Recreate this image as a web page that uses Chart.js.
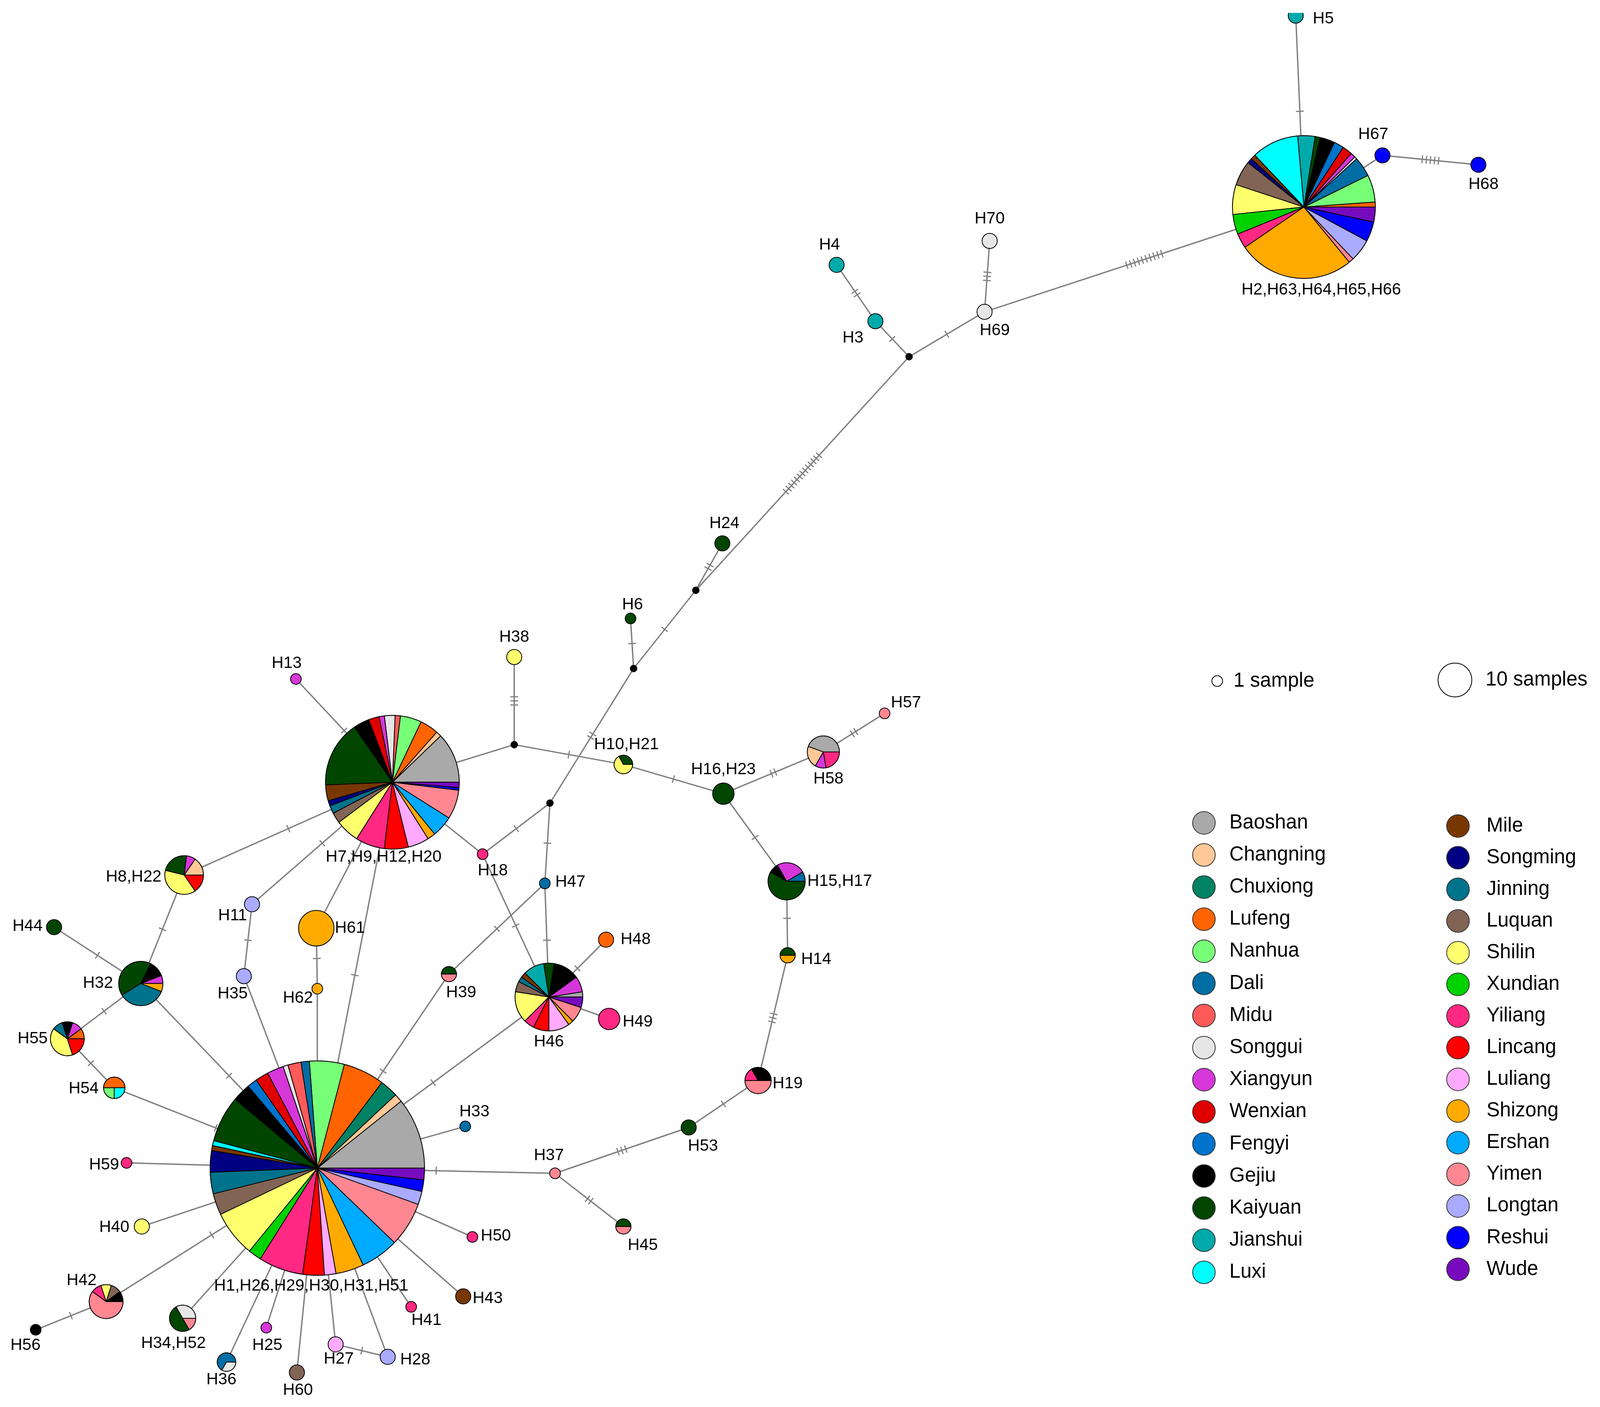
<!DOCTYPE html>
<html>
<head>
<meta charset="utf-8">
<title>Haplotype network</title>
<script src="https://cdn.jsdelivr.net/npm/chart.js@4/dist/chart.umd.min.js"></script>
<style>
  html, body { margin: 0; padding: 0; background: #fff; overflow: hidden; }
  canvas { display: block; }
</style>
</head>
<body>
<canvas id="network"></canvas>
<script>
// sampling regions, pie slices always run in this order
const regions = ["Baoshan", "Changning", "Chuxiong", "Lufeng", "Nanhua", "Dali", "Midu", "Songgui", "Xiangyun", "Wenxian", "Fengyi", "Gejiu", "Kaiyuan", "Jianshui", "Luxi", "Mile", "Songming", "Jinning", "Luquan", "Shilin", "Xundian", "Yiliang", "Lincang", "Luliang", "Shizong", "Ershan", "Yimen", "Longtan", "Reshui", "Wude"];
const regionColors = ["#a9a9a9", "#ffc896", "#008264", "#ff6400", "#78ff78", "#006ea5", "#ff5a5a", "#e6e6e6", "#d637d8", "#e10000", "#0073cd", "#000000", "#004600", "#00aaaa", "#00ffff", "#783700", "#000082", "#00738c", "#826455", "#ffff6e", "#00d200", "#ff2882", "#ff0000", "#ffaaff", "#ffaa00", "#00aaff", "#ff8791", "#aaaaff", "#0000ff", "#780abe"];

// haplotypes: layout position and samples per region
const nodeIds = ["H1", "H2", "H7", "H46", "H32", "H8", "H15", "H58", "H55", "H42", "H19", "H34", "H54", "H36", "H10", "H14", "H39", "H45", "H16", "H5", "H67", "H68", "H4", "H3", "H70", "H69", "H24", "H6", "H38", "H13", "H57", "H18", "H47", "H11", "H44", "H61", "H48", "H35", "H62", "H49", "H33", "H53", "H37", "H59", "H40", "H50", "H43", "H41", "H25", "H27", "H28", "H60", "H56"];
const nodeX = [311, 1278, 384.6, 538, 138, 180.5, 771, 807, 66, 104, 743, 179, 112, 222, 611, 772, 440, 611, 709, 1270, 1355, 1449, 820, 858, 970, 965, 708, 618, 504, 290, 867, 473, 534, 247, 53, 310, 594, 239, 311, 597, 456, 675, 544, 124, 139, 463, 454, 403, 261, 329, 380, 291, 35];
const nodeY = [1120, 198.5, 750, 956, 943, 839, 845, 721, 996, 1248, 1036, 1264, 1043, 1306, 733, 916, 934, 1176, 761, 15, 149, 158, 254, 308, 231, 299, 521, 593, 630, 651, 684, 819, 847, 867, 889, 890, 901, 936, 948, 977, 1080, 1081, 1125, 1115, 1176, 1186, 1243, 1253, 1273, 1289, 1301, 1316, 1275];
const nodeMix = [
  { Baoshan: 43, Changning: 5, Chuxiong: 11, Lufeng: 25, Nanhua: 21, Dali: 5, Midu: 8, Songgui: 3, Xiangyun: 10, Wenxian: 8, Fengyi: 6, Gejiu: 11, Kaiyuan: 28, Luxi: 3, Mile: 3, Songming: 13, Jinning: 13, Luquan: 13, Shilin: 28, Xundian: 8, Yiliang: 27, Lincang: 13, Luliang: 7, Shizong: 17, Ershan: 23, Yimen: 27, Longtan: 8, Reshui: 7, Wude: 7 },
  { Lufeng: 2, Nanhua: 11, Dali: 8, Songgui: 1, Xiangyun: 2, Wenxian: 4, Fengyi: 4, Gejiu: 6, Kaiyuan: 2, Jianshui: 7, Luxi: 19, Mile: 2, Songming: 2, Luquan: 10, Shilin: 12, Xundian: 8, Yiliang: 6, Shizong: 47, Yimen: 2, Longtan: 9, Reshui: 8, Wude: 6 },
  { Baoshan: 19, Changning: 2, Lufeng: 7, Nanhua: 8, Midu: 2, Songgui: 4, Xiangyun: 2, Wenxian: 4, Gejiu: 6, Kaiyuan: 25, Mile: 6, Songming: 2, Jinning: 3, Luquan: 4, Shilin: 9, Yiliang: 11, Lincang: 9, Luliang: 8, Shizong: 3, Ershan: 8, Yimen: 11, Reshui: 1, Wude: 2 },
  { Baoshan: 1, Xiangyun: 3, Gejiu: 5, Kaiyuan: 2, Jianshui: 4, Mile: 1, Jinning: 1, Luquan: 2, Shilin: 6, Yiliang: 2, Lincang: 3, Luliang: 4, Shizong: 1, Yimen: 3, Wude: 2 },
  { Xiangyun: 1, Gejiu: 2, Kaiyuan: 7, Jinning: 6, Shizong: 1 },
  { Changning: 2, Xiangyun: 1, Kaiyuan: 3, Shilin: 5, Lincang: 2 },
  { Dali: 1, Xiangyun: 3, Gejiu: 1, Kaiyuan: 7 },
  { Baoshan: 4, Changning: 2, Xiangyun: 1, Yiliang: 2 },
  { Lufeng: 1, Xiangyun: 1, Gejiu: 1, Jinning: 1, Shilin: 4, Lincang: 2 },
  { Gejiu: 1, Luquan: 1, Shilin: 1, Yiliang: 1, Yimen: 6 },
  { Gejiu: 2, Yiliang: 1, Yimen: 3 },
  { Songgui: 2, Kaiyuan: 3, Yimen: 1 },
  { Lufeng: 2, Nanhua: 1, Luxi: 1 },
  { Dali: 2, Songgui: 1 },
  { Kaiyuan: 1, Shilin: 2 },
  { Kaiyuan: 1, Shizong: 1 },
  { Kaiyuan: 1, Yimen: 1 },
  { Kaiyuan: 1, Yimen: 1 },
  { Kaiyuan: 4 },
  { Jianshui: 2 }, { Reshui: 2 }, { Reshui: 2 }, { Jianshui: 2 }, { Jianshui: 2 }, { Songgui: 2 }, { Songgui: 2 },
  { Kaiyuan: 2 }, { Kaiyuan: 1 }, { Shilin: 2 }, { Xiangyun: 1 }, { Yimen: 1 }, { Yiliang: 1 }, { Dali: 1 },
  { Longtan: 2 }, { Kaiyuan: 2 }, { Shizong: 11 }, { Lufeng: 2 }, { Longtan: 2 }, { Shizong: 1 }, { Yiliang: 4 },
  { Dali: 1 }, { Kaiyuan: 2 }, { Yimen: 1 }, { Yiliang: 1 }, { Shilin: 2 }, { Yiliang: 1 }, { Mile: 2 },
  { Yiliang: 1 }, { Xiangyun: 1 }, { Luliang: 2 }, { Longtan: 2 }, { Luquan: 2 }, { Gejiu: 1 },
];

// inferred median vectors (small black dots)
const medianIds = ["mv1", "mv2", "mv3", "mv4", "mv5"];
const medianX = [891, 682, 621, 504, 539];
const medianY = [342, 566, 641, 714, 770];

// links: [from, to, mutation steps]
const links = [
  ["H2", "H5", 1], ["H2", "H67", 1], ["H67", "H68", 5], ["H2", "H69", 10], ["H69", "H70", 3], ["H69", "mv1", 1],
  ["mv1", "H3", 1], ["H3", "H4", 2], ["mv1", "mv2", 13], ["mv2", "H24", 2], ["mv2", "mv3", 1], ["mv3", "H6", 1],
  ["mv3", "mv5", 2], ["mv5", "H47", 1], ["mv5", "H18", 1], ["mv4", "H38", 3], ["mv4", "H7", 1], ["mv4", "H10", 1],
  ["H10", "H16", 1], ["H16", "H58", 2], ["H58", "H57", 2], ["H16", "H15", 1], ["H15", "H14", 1], ["H14", "H19", 3],
  ["H19", "H53", 1], ["H53", "H37", 3], ["H37", "H45", 2], ["H37", "H1", 1], ["H1", "H33", 1], ["H1", "H46", 1],
  ["H1", "H39", 1], ["H39", "H47", 1], ["H47", "H46", 1], ["H46", "H18", 1], ["H46", "H48", 1], ["H46", "H49", 1],
  ["H1", "H62", 1], ["H62", "H61", 1], ["H7", "H61", 1], ["H7", "H1", 1], ["H7", "H11", 1], ["H11", "H35", 1],
  ["H35", "H1", 1], ["H7", "H13", 1], ["H7", "H8", 1], ["H8", "H32", 1], ["H32", "H44", 1], ["H32", "H55", 1],
  ["H32", "H1", 1], ["H55", "H54", 1], ["H54", "H1", 1], ["H59", "H1", 1], ["H40", "H1", 1], ["H42", "H1", 1],
  ["H56", "H42", 1], ["H34", "H1", 1], ["H36", "H1", 1], ["H25", "H1", 1], ["H60", "H1", 1], ["H27", "H1", 1],
  ["H27", "H28", 1], ["H28", "H1", 1], ["H41", "H1", 1], ["H43", "H1", 1], ["H50", "H1", 1], ["H18", "H7", 1],
];

// haplotype labels
const labelTexts = ["H5", "H67", "H68", "H2,H63,H64,H65,H66", "H4", "H3", "H70", "H69", "H24", "H6", "H38", "H13", "H57", "H10,H21", "H16,H23", "H58", "H7,H9,H12,H20", "H18", "H47", "H15,H17", "H8,H22", "H11", "H44", "H61", "H48", "H14", "H32", "H35", "H62", "H39", "H46", "H49", "H55", "H54", "H19", "H33", "H53", "H37", "H59", "H40", "H50", "H45", "H42", "H1,H26,H29,H30,H31,H51", "H43", "H41", "H34,H52", "H25", "H27", "H28", "H36", "H60", "H56"];
const labelX = [1297, 1346, 1454, 1295, 813, 836, 970, 975, 710, 620, 504, 281, 888, 614, 709, 812, 376, 483, 559, 823, 131, 228, 27, 343, 623, 800, 96, 228, 292, 452, 538, 625, 32, 82, 772, 465, 689, 538, 102, 112, 486, 630, 80, 305, 478, 418, 170, 262, 332, 407, 217, 292, 25];
const labelY = [18, 129, 177, 278, 235, 324, 210, 317, 502, 580, 611, 636, 674, 714, 738, 747, 822, 835, 846, 845, 841, 878, 888, 890, 901, 920, 943, 953, 957, 952, 999, 980, 996, 1044, 1039, 1066, 1099, 1108, 1117, 1177, 1185, 1194, 1228, 1233, 1245, 1266, 1288, 1290, 1303, 1304, 1323, 1333, 1290];

// size key
const keySamples = [1, 10];
const keyLabels = ["1 sample", "10 samples"];
const keyX = [1193, 1426];
const keyY = [653, 652];

const PX_PER_ROOT_SAMPLE = 13.7;
const LEGEND_DOT_R = 29;
const MEDIAN_R = 9;
const HATCH_HALF = 10;
const HATCH_GAP = 10.5;

const allIds = nodeIds.concat(medianIds);
const allX = nodeX.concat(medianX);
const allY = nodeY.concat(medianY);

function nodePoint(id) {
  const i = allIds.indexOf(id);
  return { x: allX[i], y: allY[i] };
}

function mixTotal(mix) {
  return Object.values(mix).reduce((a, b) => a + b, 0);
}

const linkDatasets = links.map((l) => ({
  type: "scatter",
  showLine: true,
  data: [nodePoint(l[0]), nodePoint(l[1])],
  mutations: l[2],
  borderColor: "#808080",
  borderWidth: 3.5,
  pointRadius: 0,
  order: 3,
}));

const nodeDataset = {
  type: "bubble",
  isPie: true,
  data: nodeIds.map((id, i) => ({ x: nodeX[i], y: nodeY[i], r: PX_PER_ROOT_SAMPLE * Math.sqrt(mixTotal(nodeMix[i])) })),
  backgroundColor: (ctx) => regionColors[regions.indexOf(Object.keys(nodeMix[ctx.dataIndex])[0])],
  borderColor: "#000",
  borderWidth: 2,
  order: 1,
};

const medianDataset = {
  type: "bubble",
  data: medianIds.map((id, i) => ({ x: medianX[i], y: medianY[i], r: MEDIAN_R })),
  backgroundColor: "#000",
  borderColor: "#000",
  borderWidth: 1,
  order: 1,
};

const keyDataset = {
  type: "bubble",
  data: keySamples.map((n, i) => ({ x: keyX[i], y: keyY[i], r: PX_PER_ROOT_SAMPLE * Math.sqrt(n) })),
  backgroundColor: "#fff",
  borderColor: "#000",
  borderWidth: 2,
  order: 1,
};

// legend: two columns of 15
const legendLabels = regions.map((name, i) => ({
  name,
  x: i < 15 ? 1180 : 1429,
  y: i < 15 ? 789 + i * 30.78 : 792 + (i - 15) * 30.36,
  textX: i < 15 ? 1205 : 1457,
}));

const legendDataset = {
  type: "bubble",
  data: legendLabels.map((l) => ({ x: l.x, y: l.y, r: LEGEND_DOT_R })),
  backgroundColor: regionColors,
  borderColor: "#333",
  borderWidth: 2,
  order: 1,
};

const networkPlugin = {
  id: "network",
  afterDatasetDraw(chart, args) {
    const ctx = chart.ctx;
    const ds = chart.data.datasets[args.index];
    const area = chart.chartArea;
    ctx.save();
    ctx.beginPath();
    ctx.rect(area.left, area.top, area.right - area.left, area.bottom - area.top);
    ctx.clip();

    if (ds.mutations) {
      // hatch marks sit around the middle of the link
      const a = args.meta.data[0];
      const b = args.meta.data[1];
      const len = Math.hypot(b.x - a.x, b.y - a.y);
      const ux = (b.x - a.x) / len;
      const uy = (b.y - a.y) / len;
      const mx = (a.x + b.x) / 2;
      const my = (a.y + b.y) / 2;
      ctx.strokeStyle = "#808080";
      ctx.lineWidth = 3;
      for (let k = 0; k < ds.mutations; k++) {
        const off = (k - (ds.mutations - 1) / 2) * HATCH_GAP;
        const cx = mx + ux * off;
        const cy = my + uy * off;
        ctx.beginPath();
        ctx.moveTo(cx - uy * HATCH_HALF, cy + ux * HATCH_HALF);
        ctx.lineTo(cx + uy * HATCH_HALF, cy - ux * HATCH_HALF);
        ctx.stroke();
      }
    }

    if (ds.isPie) {
      args.meta.data.forEach((el, i) => {
        const mix = nodeMix[i];
        const keys = Object.keys(mix);
        if (keys.length < 2) return;
        const total = mixTotal(mix);
        const r = el.options.radius;
        let angle = 0;
        ctx.lineWidth = 2;
        ctx.strokeStyle = "#000";
        regions.forEach((name, j) => {
          if (!mix[name]) return;
          const next = angle - (mix[name] / total) * Math.PI * 2;
          ctx.beginPath();
          ctx.moveTo(el.x, el.y);
          ctx.arc(el.x, el.y, r, angle, next, true);
          ctx.closePath();
          ctx.fillStyle = regionColors[j];
          ctx.fill();
          ctx.stroke();
          angle = next;
        });
      });
    }
    ctx.restore();
  },
  afterDraw(chart) {
    const ctx = chart.ctx;
    const xs = chart.scales.x;
    const ys = chart.scales.y;
    ctx.save();
    ctx.fillStyle = "#000";
    ctx.textBaseline = "middle";
    ctx.textAlign = "center";
    ctx.font = '42px "Liberation Sans", Arial, sans-serif';
    labelTexts.forEach((t, i) => {
      ctx.fillText(t, xs.getPixelForValue(labelX[i]), ys.getPixelForValue(labelY[i]));
    });
    ctx.textAlign = "left";
    ctx.font = '51px "Liberation Sans", Arial, sans-serif';
    legendLabels.forEach((l) => {
      ctx.fillText(l.name, xs.getPixelForValue(l.textX), ys.getPixelForValue(l.y));
    });
    keyLabels.forEach((t, i) => {
      ctx.fillText(t, xs.getPixelForValue(keyX[i] + (i === 0 ? 16 : 30)), ys.getPixelForValue(keyY[i]));
    });
    ctx.restore();
  },
};

// the window can be narrower than asked for, so fit the canvas to what it really is
const canvas = document.getElementById("network");
canvas.width = Math.min(window.innerWidth, 4187);
canvas.height = 3602;

new Chart(canvas, {
  type: "bubble",
  data: { datasets: [...linkDatasets, nodeDataset, medianDataset, keyDataset, legendDataset] },
  plugins: [networkPlugin],
  options: {
    responsive: false,
    animation: false,
    devicePixelRatio: 1,
    layout: { autoPadding: false, padding: { top: 33 } },
    plugins: { legend: { display: false }, tooltip: { enabled: false } },
    scales: {
      x: { type: "linear", display: false, min: 0, max: 1568.2 },
      y: { type: "linear", display: false, reverse: true, min: 12.36, max: 1349.06 },
    },
  },
});
</script>
</body>
</html>
